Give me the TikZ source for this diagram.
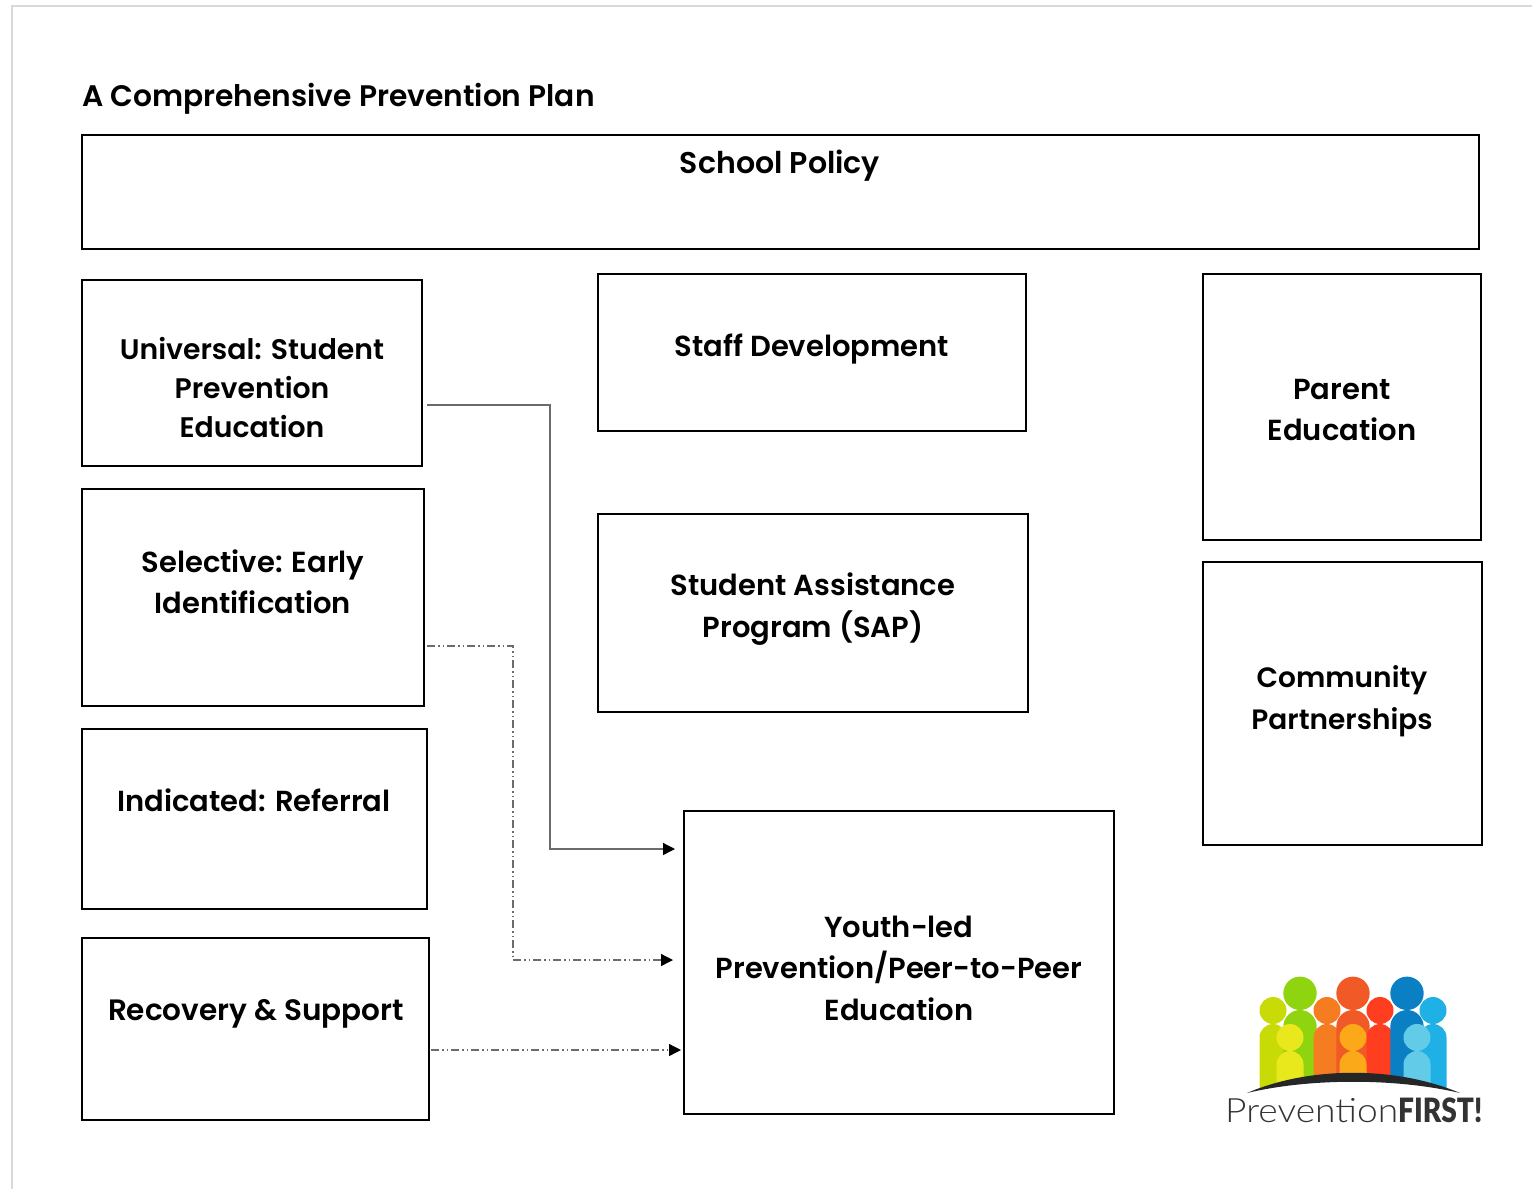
\documentclass[tikz,border=0pt]{standalone}
\usepackage{fontspec}
\setmainfont{Poppins SemiBold}
\newfontfamily\logofont{Lato Light}[FakeStretch=1.11]
\newfontfamily\logobold{Lato Black}[FakeStretch=0.84]
\usetikzlibrary{arrows.meta}
\definecolor{linegray}{gray}{0.42}
\definecolor{framegray}{gray}{0.85}
\tikzset{
    box/.style={draw, line width=1.5pt, anchor=north west, inner sep=0pt, outer sep=0pt},
    boxtext/.style={align=center, font=\fontsize{29}{41.5}\selectfont, inner sep=0pt},
    link/.style={draw=linegray, line width=1.3pt},
    linkdash/.style={link, dash pattern=on 8pt off 3pt on 1.5pt off 3pt on 1.5pt off 3pt},
}
\newcommand{\planbox}[5]{% name, x, y, width, height
    \node[box, minimum width=#4pt, minimum height=#5pt] (#1) at (#2,#3) {};
}
\begin{document}
\begin{tikzpicture}[x=1pt,y=-1pt,>={Triangle[length=12pt,width=12pt,black]}]
\useasboundingbox (0,0) rectangle (1532,1189);

% page frame
\draw[framegray, line width=1.5pt](12,1189)--(12,6)--(1532,6);

\node[boxtext, anchor=base west, font=\fontsize{29.7}{41.5}\selectfont] (title) at (82,106) {A Comprehensive Prevention Plan};

\planbox{policy}{82}{135}{1397}{114}
\planbox{universal}{82}{280}{340}{186}
\planbox{selective}{82}{489}{342}{217}
\planbox{indicated}{82}{729}{345}{180}
\planbox{recovery}{82}{938}{347}{182}
\planbox{staff}{598}{274}{428}{157}
\planbox{sap}{598}{514}{430}{198}
\planbox{youth}{684}{811}{430}{303}
\planbox{parent}{1203}{274}{278}{266}
\planbox{community}{1203}{562}{279}{283}

\node[boxtext, font=\fontsize{30}{41.5}\selectfont] (policytext) at (780,166) {School Policy};
\node[boxtext, font=\fontsize{28.3}{39}\selectfont] (universaltext) at (252,388) {Universal: Student\\Prevention\\Education};
\node[boxtext] (selectivetext) at (253,582) {Selective: Early\\Identification};
\node[boxtext] (indicatedtext) at (254,800) {Indicated: Referral};
\node[boxtext, font=\fontsize{29.5}{41.5}\selectfont] (recoverytext) at (256,1014) {Recovery \& Support};
\node[boxtext] (stafftext) at (812,349) {Staff Development};
\node[boxtext] (saptext) at (813,609) {Student Assistance\\Program (SAP)};
\node[boxtext] (youthtext) at (899,968) {Youth-led\\Prevention/Peer-to-Peer\\Education};
\node[boxtext] (parenttext) at (1342,410) {Parent\\Education};
\node[boxtext, font=\fontsize{28}{41.5}\selectfont] (communitytext) at (1342,701) {Community\\Partnerships};

% connectors
\coordinate (universalout) at (427,405);
\coordinate (universalin) at (675,849);
\coordinate (selectiveout) at (427,646);
\coordinate (selectivein) at (673,960);
\coordinate (recoveryout) at (431,1050);
\coordinate (recoveryin) at (681,1050);
\draw[link,->](universalout)-|(550,849)--(universalin);
\draw[linkdash,->](selectiveout)-|(513,960)--(selectivein);
\draw[linkdash,->](recoveryout)--(recoveryin);

% logo
\begin{scope}
\clip (1240,960) -- (1470,960) -- (1470,1093) -- (1460,1093) .. controls (1396,1072) and (1310,1072) .. (1247,1093) -- (1240,1093) -- cycle;
\foreach \cx/\top/\hw/\col in {1273/1024/13.5/C9DB06, 1300/1010/16.7/8FD40F, 1327/1024/13.5/F57C20, 1353/1010/16.7/F15A27, 1380/1024/13.5/FF3D1F, 1407/1010/16.7/0A7FC4, 1433/1024/13.5/1FB0E6, 1290/1051/13.5/E9E81C, 1353/1051/13.5/FBA919, 1417/1051/13.5/62CBE8}
{
    \definecolor{figcol}{HTML}{\col}
    \fill[figcol](\cx-\hw,1100)--(\cx-\hw,\top+\hw) arc[start angle=180, end angle=360, radius=\hw]--(\cx+\hw,1100)--cycle;
    \fill[figcol](\cx,\top-\hw)circle(\hw);
}
\end{scope}
\fill[black!85](1247,1093) .. controls (1310,1066) and (1396,1066) .. (1460,1093) .. controls (1396,1078) and (1310,1078) .. (1247,1093) -- cycle;
\node[inner sep=0pt, anchor=base west, font=\fontsize{33.5}{34}\selectfont, text=black!80] (logotext) at (1225,1122) {\logofont Prevention{\logobold FIRST!}};
\end{tikzpicture}
\end{document}
